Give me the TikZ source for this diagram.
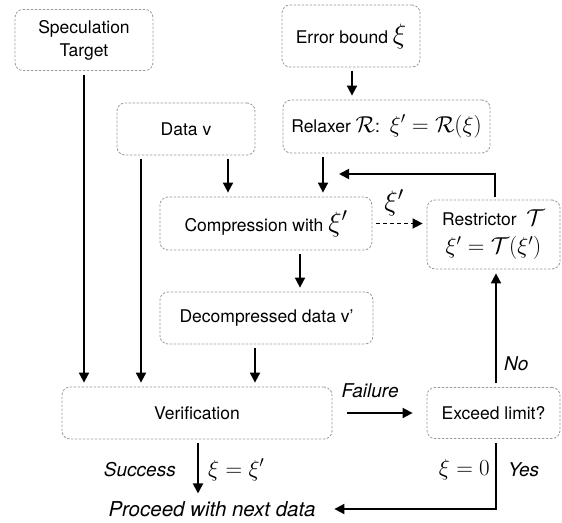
\RequirePackage{fix-cm}
\documentclass[tikz,border=0pt]{standalone}
\usepackage{amsmath}
\usepackage{amssymb}
\usepackage{fontspec}
\setmainfont{TeX Gyre Heros}
\usepackage{tikz}
\usetikzlibrary{arrows.meta,positioning,calc}

% math a little larger than the box text
\DeclareMathSizes{17.5}{23}{16}{12}
\newcommand{\largemath}[1]{{\fontsize{28}{30}\selectfont$#1$}}

\begin{document}
\begin{tikzpicture}
	[x=1pt,y=1pt,->,>={Triangle[length=10pt,width=10pt]},line width=1.8pt,
		font=\fontsize{17.5}{23}\selectfont,
		box/.style={draw=black!40,line width=0.8pt,dash pattern=on 2.4pt off 1.6pt,
			rounded corners=8pt,align=center,inner sep=2pt},
		gap/.style={shorten <=4pt,shorten >=4pt},
		tag/.style={font=\fontsize{19}{21}\selectfont\itshape}]

	\useasboundingbox (0,0) rectangle (562,-522);

	% boxes
	\node[box, minimum width=138pt, minimum height=61pt] (spec)   at (84,-40)      {Speculation\\Target};
	\node[box, minimum width=138pt, minimum height=52pt] (data)   at (186,-129)    {Data v};
	\node[box, minimum width=138pt, minimum height=62pt] (err)    at (351,-36)     {Error bound \largemath{\xi}};
	\node[box, minimum width=207pt, minimum height=53pt] (relax)  at (386.5,-126.5) {Relaxer $\mathcal{R}$:~~$\xi' = \mathcal{R}(\xi)$};
	\node[box, minimum width=212pt, minimum height=53pt] (comp)   at (266,-223.5)  {Compression with \largemath{\xi'}};
	\node[box, minimum width=133pt, minimum height=69pt] (restr)  at (493.5,-234.5) {Restrictor~~$\mathcal{T}$\\[5pt]$\xi' = \mathcal{T}(\xi')$};
	\node[box, minimum width=213pt, minimum height=52pt] (decomp) at (266.5,-318)   {Decompressed data v'};
	\node[box, minimum width=270pt, minimum height=52pt] (verif)  at (197,-413)    {Verification};
	\node[box, minimum width=133pt, minimum height=51pt] (exceed) at (493.5,-413)  {Exceed limit?};
	\node[tag, font=\fontsize{20.5}{22}\selectfont\itshape, inner sep=0pt] (next) at (212,-509) {Proceed with next data};
	\coordinate (merge) at (323,-174);

	% data flow
	\draw[gap] (spec.south) -- (spec.south |- verif.north);
	\draw[gap] ([xshift=-45pt]data.south) -- ([xshift=-45pt]data.south |- verif.north);
	\draw[gap] ([xshift=42pt]data.south) -- ([xshift=42pt]data.south |- comp.north);
	\draw[gap] ([xshift=1pt]err.south) -- ([xshift=1pt]err.south |- relax.north);
	\draw[gap] (merge |- relax.south) -- (merge |- comp.north);
	\draw[gap] ([xshift=34pt]comp.south) -- ([xshift=34pt]comp.south |- decomp.north);
	\draw[gap] ([xshift=-11.5pt]decomp.south) -- ([xshift=-11.5pt]decomp.south |- verif.north);

	% restrictor loop
	\draw[gap,dash pattern=on 4pt off 3pt,line width=1.6pt] (comp.east) -- (comp.east -| restr.west)
		node[pos=0.4, above=3pt] {\largemath{\xi'}};
	\draw[shorten <=3pt] ([xshift=1.5pt]restr.north) |- ([xshift=16pt]merge);
	\draw[shorten >=14pt,shorten <=15pt] (verif.east) -- (exceed.west)
		node[pos=0.4, above=11pt, tag] {Failure};
	\draw[gap] ([xshift=2.5pt]exceed.north) -- ([xshift=2.5pt]exceed.north |- restr.south)
		node[pos=0.2, right=4pt, tag] {No};

	% exits
	\draw[shorten <=4pt,shorten >=18pt] ([xshift=2.5pt]exceed.south) |- (next.east)
		node[pos=0.22, left=2pt] {$\xi = 0$}
		node[pos=0.22, right=8pt, tag] {Yes};
	\draw[shorten <=4pt,shorten >=7pt] ([xshift=1pt]verif.south) -- ([xshift=1pt]verif.south |- next.north)
		node[midway, left=18pt, tag] {Success}
		node[midway, right=6pt] {$\xi = \xi'$};

\end{tikzpicture}
\end{document}
